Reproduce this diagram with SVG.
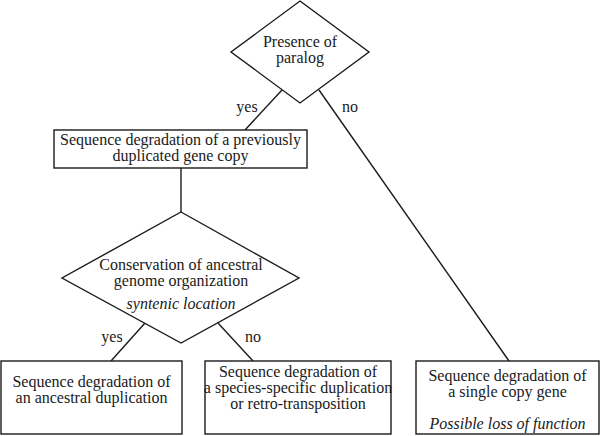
<svg xmlns="http://www.w3.org/2000/svg" width="600" height="436" viewBox="0 0 600 436">
<style>
.s{fill:#fff;stroke:#1a1a1a;stroke-width:1.4}
.c{fill:none;stroke:#1a1a1a;stroke-width:1.4}
text{font-size:16px;fill:#1a1a1a;text-anchor:middle}
.i{font-style:italic}
</style>
<rect width="600" height="436" fill="#fff"/>
<g font-family="'Liberation Serif', 'DejaVu Serif', serif">
<g id="connectors">
<path class="c" d="M282,90 L245,130"/>
<path class="c" d="M319,90 L509,361"/>
<path class="c" d="M181,168 L181,212"/>
<path class="c" d="M145,323 L111,361"/>
<path class="c" d="M218,323 L253,361"/>
<text x="247" y="112">yes</text>
<text x="350" y="112">no</text>
<text x="112" y="342">yes</text>
<text x="253" y="342">no</text>
</g>
<g id="d1">
<polygon class="s" points="300,1 369,52 300,103 231,52"/>
<text x="300" y="47">Presence of</text>
<text x="300" y="63">paralog</text>
</g>
<g id="b1">
<rect class="s" x="54" y="130" width="253" height="38"/>
<text x="180.5" y="145">Sequence degradation of a previously</text>
<text x="180.5" y="161">duplicated gene copy</text>
</g>
<g id="d2">
<polygon class="s" points="181,212 299,278 181,343 62,278"/>
<text x="181" y="270">Conservation of ancestral</text>
<text x="181" y="286">genome organization</text>
<text class="i" x="181" y="309">syntenic location</text>
</g>
<g id="b2">
<rect class="s" x="1" y="361" width="181" height="73"/>
<text x="91.5" y="387">Sequence degradation of</text>
<text x="91.5" y="403">an ancestral duplication</text>
</g>
<g id="b3">
<rect class="s" x="205" y="361" width="186" height="73"/>
<text x="298" y="377">Sequence degradation of</text>
<text x="298" y="393">a species-specific duplication</text>
<text x="298" y="409">or retro-transposition</text>
</g>
<g id="b4">
<rect class="s" x="416" y="361" width="183" height="73"/>
<text x="507.5" y="381">Sequence degradation of</text>
<text x="507.5" y="397">a single copy gene</text>
<text class="i" x="507.5" y="429">Possible loss of function</text>
</g>
</g>
</svg>
